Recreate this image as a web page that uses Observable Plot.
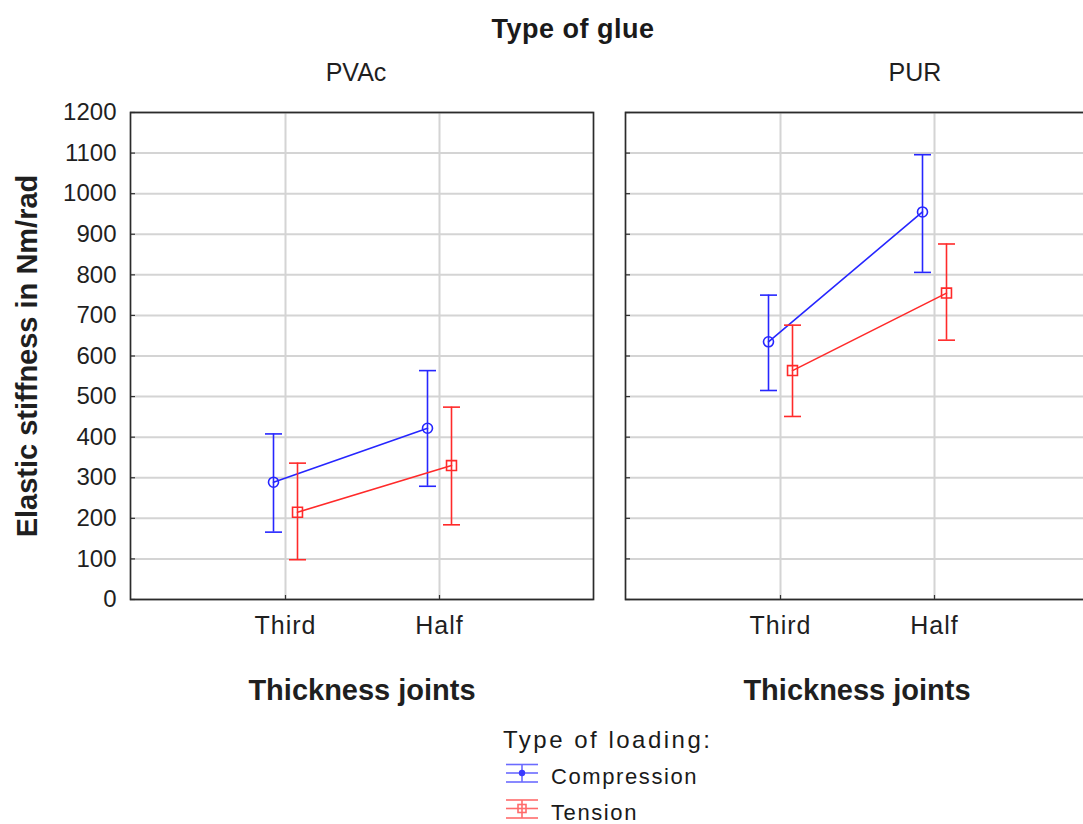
<!DOCTYPE html>
<html><head><meta charset="utf-8">
<script src="https://cdn.jsdelivr.net/npm/d3@7"></script>
<script src="https://cdn.jsdelivr.net/npm/@observablehq/plot@0.6"></script>
<style>
html,body{margin:0;padding:0;background:#fff;overflow:hidden;width:1083px;height:824px}
#wrap{position:relative;width:1083px;height:824px;overflow:hidden;font-family:"Liberation Sans",Arial,sans-serif;color:#1a1a1a}
#title{position:absolute;left:0;top:16px;width:1146px;text-align:center;font-weight:bold;font-size:27px;letter-spacing:0.5px;line-height:1}
#chart{position:absolute;left:0;top:45px;width:1088px}
#chart svg{max-width:none}
#chart g[aria-label="x-axis tick label"] text{letter-spacing:1px}
.leg{position:absolute;line-height:1;white-space:nowrap}
.legicon{position:absolute}
</style></head>
<body><div id="wrap">
<div id="title">Type of glue</div>
<div id="chart"></div>
<div class="leg" style="left:503px;top:728px;font-size:24px;letter-spacing:2.5px">Type of loading:</div>
<svg class="legicon" style="left:504px;top:760px" width="36" height="26">
 <g stroke="#6b6bff" stroke-width="1.6" fill="none">
  <line x1="2" y1="4.5" x2="34" y2="4.5"/><line x1="2" y1="13" x2="34" y2="13"/><line x1="2" y1="22" x2="34" y2="22"/>
  <line x1="18" y1="4.5" x2="18" y2="22"/>
 </g><circle cx="18" cy="13" r="3.2" fill="#3a3aff"/>
</svg>
<div class="leg" style="left:551px;top:766px;font-size:22px;letter-spacing:1.6px">Compression</div>
<svg class="legicon" style="left:504px;top:796px" width="36" height="26">
 <g stroke="#ff6b6b" stroke-width="1.6" fill="none">
  <line x1="2" y1="4" x2="34" y2="4"/><line x1="2" y1="12.5" x2="34" y2="12.5"/><line x1="2" y1="22" x2="34" y2="22"/>
  <line x1="18" y1="4" x2="18" y2="22"/>
  <rect x="14" y="8.5" width="8" height="8"/>
 </g>
</svg>
<div class="leg" style="left:551px;top:802px;font-size:22px;letter-spacing:1.6px">Tension</div>
</div>
<script>
// ---- data ----
const glueTypes = ["PVAc", "PUR"];
const thickness = ["Third", "Half"];
const loadings = ["Compression", "Tension"];
// order: PVAc-Third, PVAc-Half, PUR-Third, PUR-Half
const compMean = [289, 422, 635, 955];
const compLow  = [166, 279, 515, 806];
const compHigh = [408, 564, 750, 1096];
const tensMean = [215, 330, 564, 755];
const tensLow  = [98, 184, 451, 639];
const tensHigh = [336, 474, 676, 876];
const yTicks = [0, 100, 200, 300, 400, 500, 600, 700, 800, 900, 1000, 1100, 1200];
const yLabel = "Elastic stiffness in Nm/rad";
const xLabel = "Thickness joints";

// ---- table ----
const rows = [];
glueTypes.forEach((g, gi) => thickness.forEach((t, ti) => {
  const i = gi * 2 + ti;
  rows.push({glue: g, thick: t, loading: "Compression", mean: compMean[i], lo: compLow[i], hi: compHigh[i]});
  rows.push({glue: g, thick: t, loading: "Tension", mean: tensMean[i], lo: tensLow[i], hi: tensHigh[i]});
}));

// ---- styles ----
const look = {
  Compression: {color: "#2626ff", dx: -12, symbol: "circle", r: 5},
  Tension: {color: "#ff2a2a", dx: 12, symbol: "square", r: 5.6}
};
const capSymbol = {draw(ctx, size) { const w = Math.sqrt(size / Math.PI); ctx.moveTo(-w, 0); ctx.lineTo(w, 0); }};

const seriesMarks = loadings.flatMap(L => {
  const data = rows.filter(d => d.loading === L);
  const s = look[L];
  return [
    Plot.line(data, {x: "thick", y: "mean", fx: "glue", stroke: s.color, strokeWidth: 1.6, dx: s.dx}),
    Plot.ruleX(data, {x: "thick", y1: "lo", y2: "hi", fx: "glue", stroke: s.color, strokeWidth: 1.6, dx: s.dx}),
    Plot.dot(data, {x: "thick", y: "hi", fx: "glue", symbol: capSymbol, r: 8.5, stroke: s.color, strokeWidth: 1.6, dx: s.dx}),
    Plot.dot(data, {x: "thick", y: "lo", fx: "glue", symbol: capSymbol, r: 8.5, stroke: s.color, strokeWidth: 1.6, dx: s.dx}),
    Plot.dot(data, {x: "thick", y: "mean", fx: "glue", symbol: s.symbol, r: s.r, stroke: s.color, strokeWidth: 1.6, fill: "none", dx: s.dx})
  ];
});

const chart = Plot.plot({
  width: 1088,
  height: 680,
  marginLeft: 130,
  marginRight: 0,
  marginTop: 67,
  marginBottom: 126,
  style: {fontFamily: "'Liberation Sans', Arial, sans-serif", fontSize: "24px", color: "#1f1f1f", background: "white", overflow: "visible", maxWidth: "none"},
  fx: {domain: glueTypes, axis: null, paddingInner: 32 / 495, paddingOuter: 0, round: false},
  x: {type: "point", domain: thickness, padding: 1},
  y: {domain: [0, 1200]},
  marks: [
    Plot.gridY(yTicks, {stroke: "#d4d4d4", strokeOpacity: 1, strokeWidth: 2}),
    Plot.gridX(thickness, {stroke: "#d4d4d4", strokeOpacity: 1, strokeWidth: 2}),
    Plot.tickY(yTicks, {y: d => d, insetRight: 458, stroke: "#333", strokeWidth: 1.2}),
    Plot.tickX(thickness, {x: d => d, insetTop: 483, stroke: "#333", strokeWidth: 1.2}),
    Plot.frame({stroke: "#2b2b2b", strokeWidth: 1.7}),
    Plot.axisY(yTicks, {tickSize: 0, tickPadding: 14, label: null, fontSize: 24, tickFormat: d => String(d)}),
    Plot.axisX(thickness, {tickSize: 0, tickPadding: 17, label: null, fontSize: 25}),
    Plot.text(glueTypes.slice(0, 1), {fx: d => d, text: () => yLabel, frameAnchor: "left", textAnchor: "middle", lineAnchor: "middle", dx: -103, rotate: -90, fontSize: 29, fontWeight: "bold"}),
    Plot.text(glueTypes, {fx: d => d, text: () => xLabel, frameAnchor: "bottom", lineAnchor: "middle", dy: 91, fontSize: 29, fontWeight: "bold"}),
    Plot.text(glueTypes.slice(0, 1), {fx: d => d, text: d => d, frameAnchor: "top", lineAnchor: "middle", dy: -40, dx: -6, fontSize: 25}),
    Plot.text(glueTypes.slice(1), {fx: d => d, text: d => d, frameAnchor: "top", lineAnchor: "middle", dy: -40, dx: 58, fontSize: 25}),
    ...seriesMarks
  ]
});
document.getElementById("chart").appendChild(chart);
</script>
</body></html>
